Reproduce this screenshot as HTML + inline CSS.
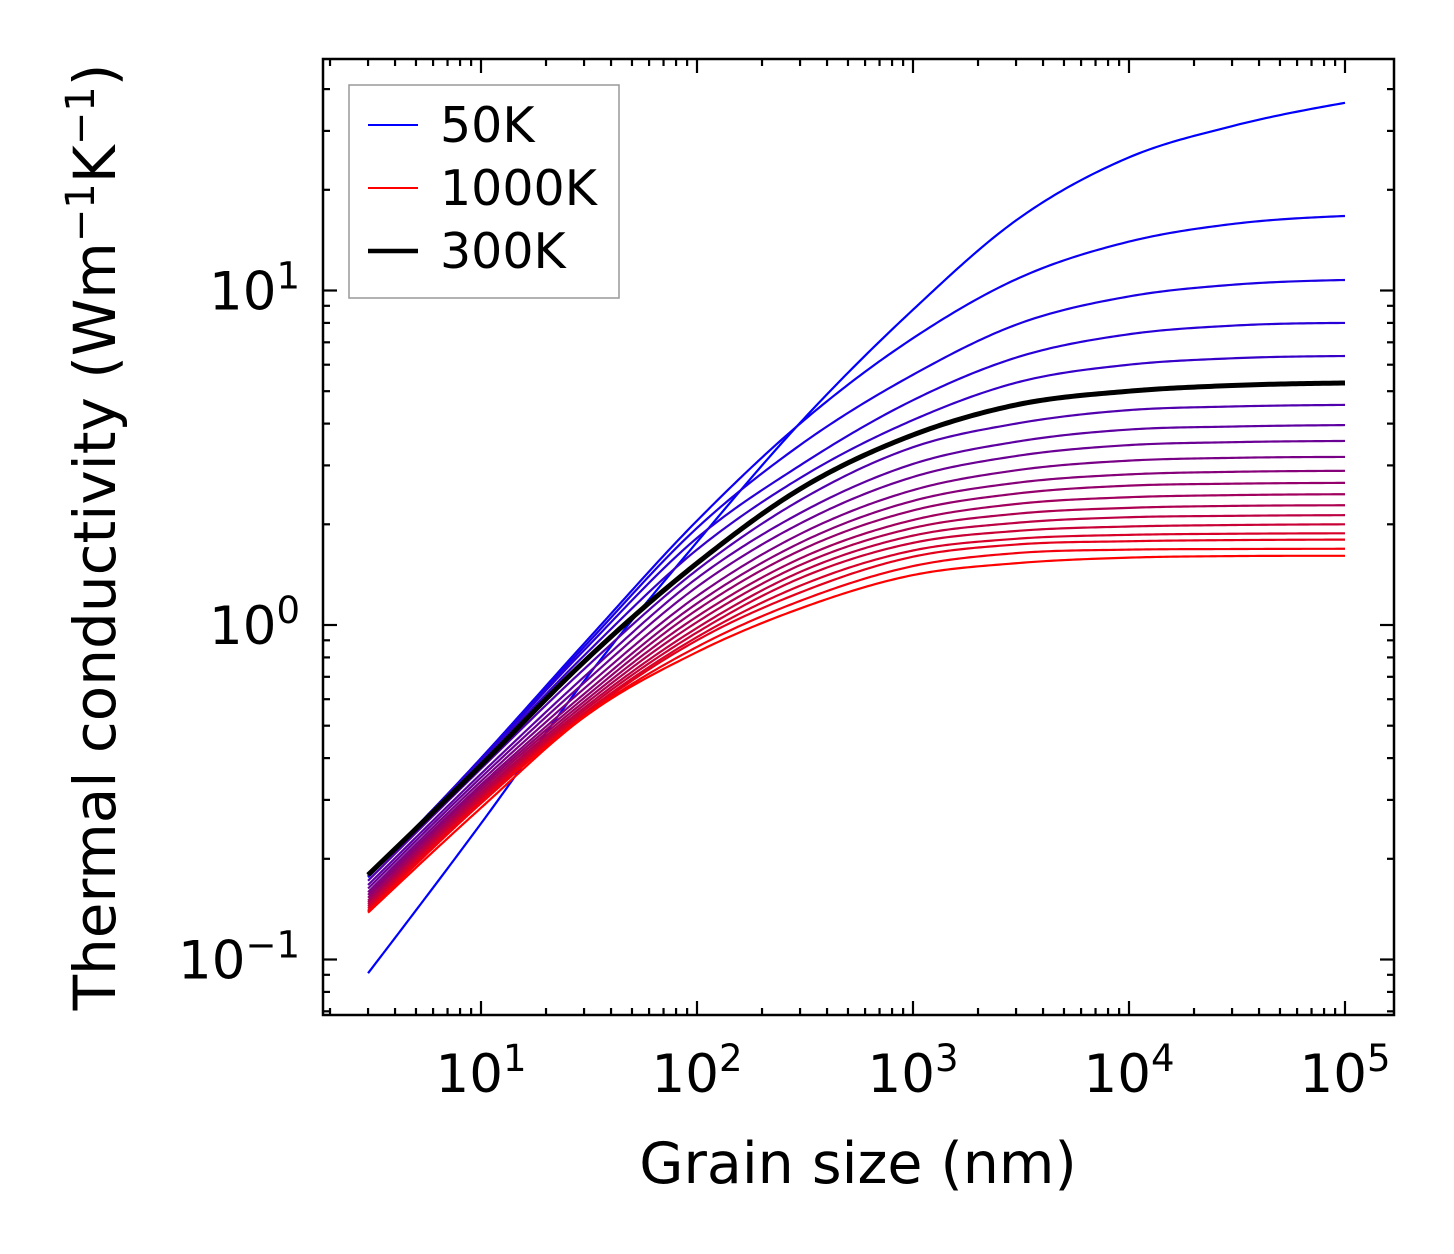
<!DOCTYPE html>
<html><head><meta charset="utf-8">
<style>
html,body{margin:0;padding:0;background:#fff;}
svg{display:block;font-family:"DejaVu Sans","Liberation Sans",sans-serif;}
</style></head>
<body>
<svg id="chart" width="1454" height="1254" viewBox="0 0 1454 1254" xmlns="http://www.w3.org/2000/svg">
<rect x="0" y="0" width="1454" height="1254" fill="#fff"/>
<g id="curves"></g>
<g id="ticks"></g>
<rect x="323" y="59" width="1071" height="956" fill="none" stroke="#000" stroke-width="2.5"/>
<g id="xlabels" font-size="53" text-anchor="middle"></g>
<g id="ylabels" font-size="53" text-anchor="end"></g>
<text x="858" y="1183" font-size="57" text-anchor="middle">Grain size (nm)</text>
<text transform="translate(115,537) rotate(-90)" font-size="58" text-anchor="middle">Thermal conductivity (Wm<tspan dy="-21" font-size="40">−1</tspan><tspan dy="21">K</tspan><tspan dy="-21" font-size="40">−1</tspan><tspan dy="21">)</tspan></text>
<g>
<rect x="349" y="85" width="270" height="213" fill="#fff" stroke="#999" stroke-width="1.5"/>
<line x1="368" y1="125" x2="418" y2="125" stroke="#0000ff" stroke-width="2"/>
<text x="440" y="142" font-size="49">50K</text>
<line x1="368" y1="188" x2="418" y2="188" stroke="#ff0000" stroke-width="2"/>
<text x="440" y="205" font-size="49">1000K</text>
<line x1="368" y1="251" x2="418" y2="251" stroke="#000" stroke-width="4.5"/>
<text x="440" y="268" font-size="49">300K</text>
</g>
</svg>
<script>
const grainSizes = [3, 10, 30, 100, 300, 1000, 3000, 10000, 30000, 100000];
const temperatures = [50,100,150,200,250,300,350,400,450,500,550,600,650,700,750,800,850,900,950,1000];
const k50 = [0.091,0.255,0.68,1.77,4.02,8.76,16.2,25.0,31.0,36.4];
const k100 = [0.176,0.40,0.88,2.05,4.0,7.2,10.8,14.0,15.8,16.7];
const k150 = [0.177,0.398,0.86,1.95,3.45,5.6,7.9,9.6,10.4,10.75];
const k200 = [0.178,0.395,0.84,1.82,3.0,4.7,6.3,7.4,7.85,8.0];
const k250 = [0.178,0.39,0.81,1.68,2.75,4.1,5.3,6.0,6.27,6.37];
const k300 = [0.179,0.381,0.777,1.53,2.55,3.7,4.55,5.0,5.2,5.29];
const k350 = [0.172,0.372,0.738,1.46,2.36,3.40,4.00,4.39,4.50,4.55];
const k400 = [0.167,0.359,0.700,1.38,2.16,3.03,3.53,3.84,3.92,3.96];
const k450 = [0.163,0.350,0.672,1.30,2.01,2.77,3.20,3.45,3.52,3.55];
const k500 = [0.159,0.341,0.645,1.22,1.87,2.53,2.90,3.10,3.16,3.18];
const k550 = [0.156,0.333,0.622,1.16,1.76,2.35,2.66,2.82,2.87,2.89];
const k600 = [0.153,0.327,0.605,1.11,1.67,2.20,2.47,2.61,2.645,2.66];
const k650 = [0.150,0.321,0.590,1.06,1.58,2.06,2.30,2.41,2.445,2.46];
const k700 = [0.148,0.315,0.577,1.02,1.51,1.95,2.15,2.24,2.27,2.28];
const k750 = [0.146,0.310,0.565,0.98,1.44,1.85,2.02,2.10,2.12,2.13];
const k800 = [0.144,0.305,0.555,0.95,1.38,1.76,1.91,1.97,1.99,2.00];
const k850 = [0.142,0.301,0.545,0.92,1.31,1.67,1.81,1.86,1.874,1.88];
const k900 = [0.140,0.298,0.538,0.90,1.25,1.60,1.74,1.78,1.794,1.80];
const k950 = [0.139,0.293,0.533,0.86,1.18,1.50,1.64,1.68,1.687,1.69];
const k1000 = [0.138,0.284,0.53,0.83,1.12,1.41,1.53,1.59,1.607,1.61];
const seriesValues = [k50,k100,k150,k200,k250,k300,k350,k400,k450,k500,k550,k600,k650,k700,k750,k800,k850,k900,k950,k1000];
const highlightTemp = 300;
const xTickExps = [1,2,3,4,5];
const yTickExps = [-1,0,1];

const NS = "http://www.w3.org/2000/svg";
const X0 = 481, XDEC = 216;
const Y0 = 625, YDEC = 334.5;
function xScale(v){ return X0 + (Math.log10(v) - 1) * XDEC; }
function yScale(v){ return Y0 - Math.log10(v) * YDEC; }
const L = 323, R = 1394, T = 59, B = 1015;

function smoothPath(xs, ys){
  const n = xs.length, h = [], d = [], m = new Array(n);
  for (let i = 0; i < n-1; i++){ h[i] = xs[i+1]-xs[i]; d[i] = (ys[i+1]-ys[i])/h[i]; }
  m[0] = d[0] + (d[0]-d[1])*0.3; m[n-1] = d[n-2] - (d[n-3]-d[n-2])*0.3;
  if (m[n-1] < 0) m[n-1] = 0;
  for (let i = 1; i < n-1; i++){
    m[i] = (h[i]*d[i-1] + h[i-1]*d[i])/(h[i-1]+h[i]);
  }
  const pts = [];
  for (let i = 0; i < n-1; i++){
    const steps = 30;
    for (let s = (i===0?0:1); s <= steps; s++){
      const t = s/steps, t2 = t*t, t3 = t2*t;
      const y = (2*t3-3*t2+1)*ys[i] + (t3-2*t2+t)*h[i]*m[i] + (-2*t3+3*t2)*ys[i+1] + (t3-t2)*h[i]*m[i+1];
      const x = xs[i] + t*h[i];
      pts.push([X0 + (x-1)*XDEC, Y0 - y*YDEC]);
    }
  }
  return "M" + pts.map(p => p[0].toFixed(2)+","+p[1].toFixed(2)).join(" L");
}
const lx = grainSizes.map(v => Math.log10(v));

const curves = document.getElementById("curves");
const n = temperatures.length;
let hlVals = null;
seriesValues.forEach((vals, i) => {
  const f = i / (n - 1);
  const p = document.createElementNS(NS, "path");
  p.setAttribute("d", smoothPath(lx, vals.map(v => Math.log10(v))));
  p.setAttribute("fill", "none");
  p.setAttribute("stroke", "rgb(" + Math.round(255*f) + ",0," + Math.round(255*(1-f)) + ")");
  p.setAttribute("stroke-width", "2.2");
  
  
  curves.appendChild(p);
  if (temperatures[i] === highlightTemp) hlVals = vals;
});
if (hlVals){
  const p = document.createElementNS(NS, "path");
  p.setAttribute("d", smoothPath(lx, hlVals.map(v => Math.log10(v))));
  p.setAttribute("fill", "none");
  p.setAttribute("stroke", "#000");
  p.setAttribute("stroke-width", "5");
  
  
  curves.appendChild(p);
}

const ticks = document.getElementById("ticks");
function tick(x1,y1,x2,y2,name){
  const l = document.createElementNS(NS, "line");
  l.setAttribute("x1",x1); l.setAttribute("y1",y1); l.setAttribute("x2",x2); l.setAttribute("y2",y2);
  l.setAttribute("stroke","#000"); l.setAttribute("stroke-width","2.2");
  
  
  ticks.appendChild(l);
}
for (let e = 0; e <= 5; e++){
  for (let m = 1; m <= 9; m++){
    const x = xScale(m * Math.pow(10, e));
    if (x < L + 1 || x > R - 1) continue;
    const len = m === 1 ? 14 : 7;
    tick(x, B, x, B - len, 'x-tick');
    tick(x, T, x, T + len, 'x-tick-top');
  }
}
for (let e = -2; e <= 1; e++){
  for (let m = 1; m <= 9; m++){
    const y = yScale(m * Math.pow(10, e));
    if (y < T + 1 || y > B - 1) continue;
    const len = m === 1 ? 14 : 7;
    tick(L, y, L + len, y, 'y-tick');
    tick(R, y, R - len, y, 'y-tick-right');
  }
}
const xl = document.getElementById("xlabels");
xTickExps.forEach(e => {
  const t = document.createElementNS(NS, "text");
  t.setAttribute("x", xScale(Math.pow(10, e)));
  t.setAttribute("y", 1092);
  t.innerHTML = '10<tspan dy="-21" font-size="37">' + e + '</tspan>';
  
  
  xl.appendChild(t);
});
const yl = document.getElementById("ylabels");
yTickExps.forEach(e => {
  const t = document.createElementNS(NS, "text");
  t.setAttribute("x", 300);
  t.setAttribute("y", yScale(Math.pow(10, e)) + 19);
  t.innerHTML = '10<tspan dy="-21" font-size="37">' + (e < 0 ? '−' + (-e) : e) + '</tspan>';
  
  
  yl.appendChild(t);
});
</script>
</body></html>
